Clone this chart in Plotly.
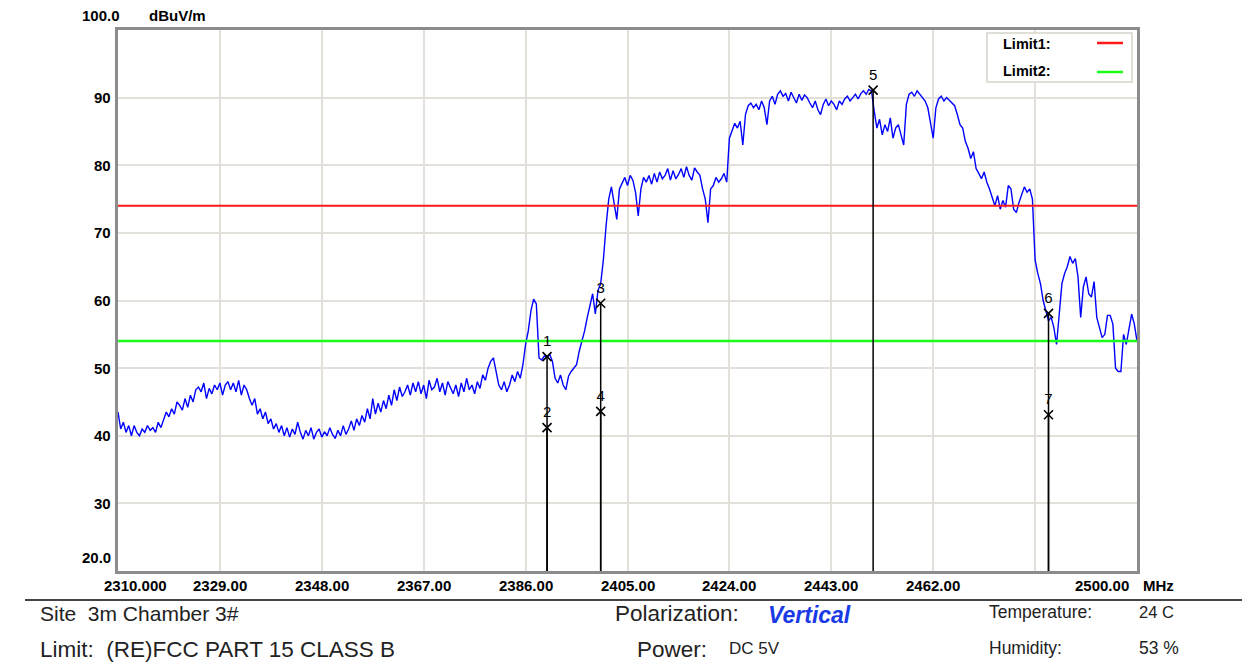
import plotly.graph_objects as go

# ---------------- data ----------------
freq_start = 2310.0
freq_step = 0.5
level_dbuv = [
    43.5, 41.0, 42.0, 40.5, 41.5, 40.0, 41.5, 40.5, 40.0, 41.0,
    40.5, 41.5, 40.8, 41.2, 40.5, 42.0, 41.2, 42.5, 43.5, 42.8,
    44.0, 43.2, 45.0, 44.5, 43.8, 45.5, 44.2, 46.0, 45.0, 46.8,
    47.2, 46.5, 47.8, 45.5, 47.0, 46.2, 47.5, 46.8, 47.8, 46.0,
    47.5, 48.0, 46.8, 47.8, 46.5, 48.2, 46.0, 47.5, 46.8, 45.5,
    44.5, 45.5, 43.2, 44.0, 42.5, 43.5, 41.8, 42.5, 41.0, 41.8,
    40.5, 41.5, 40.0, 41.2, 39.8, 41.0, 40.2, 42.0, 40.5, 39.5,
    40.8, 40.0, 41.2, 39.5, 40.5, 41.0, 39.8, 40.6, 40.0, 41.2,
    40.2, 39.6, 40.8, 40.0, 41.5, 40.2, 41.0, 42.2, 40.8, 42.5,
    41.5, 43.0, 42.0, 44.0, 42.5, 45.5, 43.2, 44.8, 43.5, 45.2,
    44.0, 46.0, 44.5, 46.8, 45.2, 47.2, 45.8, 46.5, 47.5, 46.0,
    47.8, 46.5, 48.0, 46.2, 47.5, 45.5, 48.2, 46.8, 47.2, 48.5,
    46.5, 47.8, 46.0, 48.0, 47.0, 46.2, 47.5, 45.8, 47.8, 46.5,
    48.5, 46.8, 47.5, 46.2, 48.0, 47.0, 49.0, 48.2, 50.0, 51.0,
    51.5, 49.5, 47.5, 46.8, 48.0, 46.5, 47.5, 49.0, 48.0, 49.5,
    48.5, 50.5, 53.5, 55.5, 58.5, 60.2, 59.5, 51.5, 51.2, 51.8,
    51.6, 52.0, 51.0, 48.5, 47.8, 49.0, 47.5, 46.8, 48.8, 49.5,
    50.0, 50.5, 52.5, 54.0, 55.5, 57.5, 59.5, 61.0, 58.0, 61.5,
    62.5, 66.0, 71.0, 75.0, 76.8, 74.5, 72.0, 76.5, 77.5, 78.2,
    77.0, 78.5, 77.8, 76.0, 72.5, 76.5, 78.2, 77.5, 78.5, 77.2,
    78.8, 77.5, 79.0, 78.0, 78.5, 79.5, 77.8, 79.2, 78.0, 78.6,
    79.5, 78.2, 79.8, 78.5, 77.8, 79.6, 79.0, 78.5, 76.5, 75.0,
    71.5, 76.5, 77.0, 78.2, 77.5, 78.0, 78.8, 77.5, 84.0, 85.0,
    86.2, 85.5, 86.5, 83.0, 87.5, 88.8, 89.2, 88.5, 89.0, 88.2,
    89.5, 88.5, 86.0, 89.5, 90.2, 89.0, 90.5, 91.0, 90.2, 90.6,
    89.5, 90.8, 90.0, 89.2, 90.5, 89.6, 90.4, 90.0, 89.2, 88.5,
    89.5, 88.2, 87.5, 89.0, 89.8, 88.8, 89.5, 89.0, 88.2, 89.5,
    89.0, 89.8, 90.2, 89.5, 90.0, 90.5, 89.8, 90.6, 91.0, 90.5,
    91.2, 91.0, 88.0, 85.5, 86.8, 84.5, 86.0, 85.0, 87.0, 84.0,
    85.5, 86.0, 84.5, 83.0, 89.0, 90.5, 90.8, 90.2, 91.0, 90.5,
    90.0, 89.5, 88.5, 86.0, 84.0, 88.5, 89.8, 90.2, 89.5, 90.0,
    89.6, 89.2, 88.8, 87.5, 86.0, 85.5, 83.5, 82.5, 81.0, 82.0,
    79.5, 78.8, 78.0, 79.0, 77.5, 76.5, 75.2, 74.0, 75.5, 73.5,
    74.8, 73.8, 77.0, 76.5, 73.5, 73.0, 74.5, 75.5, 76.8, 76.0,
    76.5, 75.0, 66.0, 64.0, 62.5, 60.0, 58.5, 57.0, 57.5, 56.0,
    53.5, 58.0, 62.5, 64.0, 65.0, 66.5, 65.5, 66.2, 63.5, 57.5,
    62.0, 63.5, 61.0, 60.5, 62.8, 57.5, 56.0, 54.5, 55.0, 57.8,
    57.8, 56.5, 50.0, 49.5, 49.5, 55.0, 53.5, 56.0, 58.0, 56.5, 54.0,
]
freqs = [freq_start + i * freq_step for i in range(len(level_dbuv))]

limit1_dbuv = 74.0
limit2_dbuv = 54.0

marker_ids = ["1", "2", "3", "4", "5", "6", "7"]
marker_freq = [2390.0, 2390.0, 2400.0, 2400.0, 2450.8, 2483.5, 2483.5]
marker_level = [51.7, 41.2, 59.6, 43.6, 91.1, 58.1, 43.1]

x_min, x_max = 2310.0, 2500.0
y_min, y_max = 20.0, 100.0
x_tick_vals = [2310, 2329, 2348, 2367, 2386, 2405, 2424, 2443, 2462, 2481, 2500]
x_tick_text = ["2310.000", "2329.00", "2348.00", "2367.00", "2386.00", "2405.00",
               "2424.00", "2443.00", "2462.00", "", "2500.00"]
y_tick_vals = [30, 40, 50, 60, 70, 80, 90]
y_tick_text = ["30", "40", "50", "60", "70", "80", "90"]
y_unit = "dBuV/m"
x_unit = "MHz"

# ---------------- layout helpers ----------------
OFF = 8                      # page body margin
W, H = 1250 - OFF, 666 - OFF
L, R, T, B = 118, 1137, 30, 571   # plot area in window pixels


def px(x):
    return (x - L) / (R - L)


def py(y):
    return (B - y) / (B - T)


TICK_FONT = dict(family="Arial", size=15, color="black", weight="bold")

fig = go.Figure()

fig.add_trace(go.Scatter(x=freqs, y=level_dbuv, mode="lines",
                         line=dict(color="#0000ff", width=1.4),
                         hoverinfo="skip", showlegend=False))

fig.add_trace(go.Scatter(x=[x_min, x_max], y=[limit1_dbuv, limit1_dbuv], mode="lines",
                         line=dict(color="#ff1a1a", width=2), showlegend=False))
fig.add_trace(go.Scatter(x=[x_min, x_max], y=[limit2_dbuv, limit2_dbuv], mode="lines",
                         line=dict(color="#1aff1a", width=2.5), showlegend=False))

for f, v in zip(marker_freq, marker_level):
    fig.add_trace(go.Scatter(x=[f, f], y=[v, y_min], mode="lines",
                             line=dict(color="black", width=1.5),
                             showlegend=False, hoverinfo="skip"))

fig.add_trace(go.Scatter(x=marker_freq, y=marker_level, mode="markers+text",
                         text=marker_ids, textposition="top center",
                         textfont=dict(family="Arial", size=15, color="black"),
                         marker=dict(symbol="x-thin", size=9,
                                     line=dict(color="black", width=1.6)),
                         showlegend=False, hoverinfo="skip"))

annotations = []
for v, t in zip(y_tick_vals, y_tick_text):
    annotations.append(dict(x=px(113), y=v, xref="paper", yref="y", text=t,
                            showarrow=False, xanchor="right", yanchor="middle",
                            font=TICK_FONT))
annotations.append(dict(x=px(113), y=py(557), xref="paper", yref="paper", text="20.0",
                        showarrow=False, xanchor="right", yanchor="middle", font=TICK_FONT))
annotations.append(dict(x=px(122), y=py(16), xref="paper", yref="paper", text="100.0",
                        showarrow=False, xanchor="right", yanchor="middle", font=TICK_FONT))
annotations.append(dict(x=px(147), y=py(16), xref="paper", yref="paper", text=y_unit,
                        showarrow=False, xanchor="left", yanchor="middle",
                        font=dict(family="Arial", size=15, color="black", weight="bold")))
span = x_max - x_min
for v, t in zip(x_tick_vals, x_tick_text):
    if not t:
        continue
    xp = (v - x_min) / span
    xa = "center"
    if v == x_min:
        xa, xp = "left", px(102)
    if v == x_max:
        xa, xp = "right", px(1131)
    annotations.append(dict(x=xp, y=py(585), xref="paper", yref="paper", text=t,
                            showarrow=False, xanchor=xa, yanchor="middle", font=TICK_FONT))
annotations.append(dict(x=px(1141), y=py(585), xref="paper", yref="paper", text=x_unit,
                        showarrow=False, xanchor="left", yanchor="middle", font=TICK_FONT))

LEG_FONT = dict(family="Arial", size=14.5, color="black", weight="bold")
annotations.append(dict(x=px(1001), y=py(44), xref="paper", yref="paper", text="Limit1:",
                        showarrow=False, xanchor="left", yanchor="middle", font=LEG_FONT))
annotations.append(dict(x=px(1001), y=py(71), xref="paper", yref="paper", text="Limit2:",
                        showarrow=False, xanchor="left", yanchor="middle", font=LEG_FONT))


def info(x, y, text, size=20, color="#222"):
    annotations.append(dict(x=px(x), y=py(y), xref="paper", yref="paper", text=text,
                            showarrow=False, xanchor="left", yanchor="middle",
                            font=dict(family="Arial", size=size, color=color)))


info(38, 613, "Site  3m Chamber 3#", 21)
info(38, 649, "Limit:  (RE)FCC PART 15 CLASS B", 22.5)
info(613, 613, "Polarization:", 22.5)
info(766, 615, "<b><i>Vertical</i></b>", 23, color="#1a3ae6")
info(635, 649, "Power:", 22.5)
info(727, 648, "DC 5V", 17)
info(987, 612, "Temperature:", 17.5)
info(1137, 612, "24 C", 16.5)
info(987, 648, "Humidity:", 17.5)
info(1137, 648, "53 %", 17.5)

shapes = [
    dict(type="rect", xref="paper", yref="paper", x0=px(987), x1=px(1132), y0=py(33), y1=py(82),
         line=dict(color="#d8d4cc", width=1.5), fillcolor="white", layer="above"),
    dict(type="line", xref="paper", yref="paper", x0=px(1097), x1=px(1123), y0=py(43), y1=py(43),
         line=dict(color="#ff1a1a", width=2.5), layer="above"),
    dict(type="line", xref="paper", yref="paper", x0=px(1097), x1=px(1123), y0=py(72), y1=py(72),
         line=dict(color="#1aff1a", width=2.5), layer="above"),
    dict(type="line", xref="paper", yref="paper", x0=px(25), x1=px(1250), y0=py(600), y1=py(600),
         line=dict(color="#444", width=2)),
]

fig.update_layout(
    width=W, height=H,
    margin=dict(l=L - OFF, r=1250 - R, t=T - OFF, b=666 - B),
    paper_bgcolor="white", plot_bgcolor="white",
    showlegend=False,
    annotations=annotations,
    shapes=shapes,
    xaxis=dict(range=[x_min, x_max], tickvals=x_tick_vals, showticklabels=False,
               showgrid=True, gridcolor="#e3e0da", gridwidth=1.5, zeroline=False,
               showline=True, linecolor="#8c8c8c", linewidth=2.5, mirror=True, ticks=""),
    yaxis=dict(range=[y_min, y_max], tickvals=y_tick_vals, showticklabels=False,
               showgrid=True, gridcolor="#e3e0da", gridwidth=1.5, zeroline=False,
               showline=True, linecolor="#8c8c8c", linewidth=2.5, mirror=True, ticks=""),
)

fig.write_html("out.html")
